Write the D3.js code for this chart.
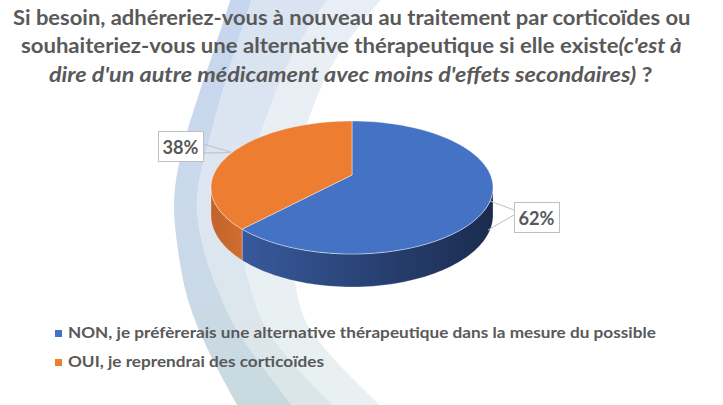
<!DOCTYPE html>
<html><head><meta charset="utf-8">
<script src="https://cdn.jsdelivr.net/npm/d3@7"></script>
<style>html,body{margin:0;padding:0;background:#fff}svg{display:block}</style>
</head><body>
<svg id="chart" width="723" height="405"></svg>
<script>
// ---- data ----
const categories = [
  "NON, je préfèrerais une alternative thérapeutique dans la mesure du possible",
  "OUI, je reprendrai des corticoïdes"
];
const values = [62, 38];
const colors = ["#4472C4", "#ED7D31"];
const sideColors = [["#37599c", "#1b2b4e"], ["#c4632a", "#cf6e2f"]];
const titleLines = [
  [{t: "Si besoin, adhéreriez-vous à nouveau au traitement par corticoïdes ou", i: false}],
  [{t: "souhaiteriez-vous une alternative thérapeutique si elle existe", i: false}, {t: "(c'est à", i: true}],
  [{t: "dire d'un autre médicament avec moins d'effets secondaires)", i: true}, {t: " ?", i: false}]
];

const svg = d3.select("#chart");
const defs = svg.append("defs");
const FONT = "Lato, 'Open Sans', sans-serif";
const TXT = "#595959";

function squeeze(sel, x0, x1) {
  const node = sel.node();
  const w = node.getComputedTextLength ? node.getComputedTextLength() : node.getBBox().width;
  const s = (x1 - x0) / w;
  sel.attr("transform", `translate(${x0},0) scale(${s},1) translate(${-x0},0)`);
  return s;
}

// ---- background decoration ----
function vgrad(id, stops) {
  const g = defs.append("linearGradient").attr("id", id)
    .attr("x1", 0).attr("y1", 0).attr("x2", 0).attr("y2", 405).attr("gradientUnits", "userSpaceOnUse");
  stops.forEach(([o, c]) => g.append("stop").attr("offset", o).attr("stop-color", c));
}
vgrad("bandA", [[0, "#c6d6ee"], [0.5, "#cbd9ec"], [1, "#c9dadf"]]);
vgrad("bandB", [[0, "#d9e3f1"], [0.5, "#dde6f1"], [1, "#dbe6e8"]]);
vgrad("bandC", [[0, "#e8eef5"], [1, "#e9f0f1"]]);

const edges = [
  [[232,-5],[214,50],[197,100],[182,150],[174,200],[178,250],[188,300],[208,350],[240,410]],
  [[253,-5],[226,80],[212,130],[197,200],[204,250],[218,290],[237,330],[296,410]],
  [[330,-5],[290,60],[262,130],[240,200],[244,260],[262,320],[290,360],[338,410]],
  [[385,-5],[335,60],[305,130],[288,200],[292,260],[305,320],[335,360],[385,410]]
];
const cl = d3.line().curve(d3.curveCatmullRom);
function band(l, r) {
  return cl(l) + cl(r.slice().reverse()).replace(/^M/, "L") + "Z";
}
const bg = svg.append("g");
bg.append("path").attr("d", band(edges[2], edges[3])).attr("fill", "url(#bandC)");
bg.append("path").attr("d", band(edges[1], edges[2])).attr("fill", "url(#bandB)");
bg.append("path").attr("d", band(edges[0], edges[1])).attr("fill", "url(#bandA)");

// ---- title ----
const titleX = [[13, 691], [21, 682], [49, 653]];
const titleY = [25, 53.5, 82];
titleLines.forEach((segs, li) => {
  const t = svg.append("text").attr("x", titleX[li][0]).attr("y", titleY[li])
    .attr("font-family", FONT).attr("font-weight", 700).attr("font-size", 21).attr("fill", TXT);
  segs.forEach(s => t.append("tspan").text(s.t).attr("font-style", s.i ? "italic" : "normal"));
  squeeze(t, titleX[li][0], titleX[li][1]);
});

// ---- 3D pie ----
const cx = 352, cy = 175, A = 138.5, B = 64.15, K = 0.188, H = 26.8;
function P(t, r = 1, d = 0) {
  const X = r * Math.sin(t), Z = r * Math.cos(t), w = 1 + K * Z;
  return [cx + A * X / w, cy - B * Z / w + d * H / w];
}
const arcs = d3.pie().sort(null).startAngle(0).endAngle(2 * Math.PI)(values);
const tR = Math.acos(-K), tL = 2 * Math.PI - tR;
const N = 80;
const pieG = svg.append("g");

// side walls
arcs.forEach((a, i) => {
  const s = Math.max(a.startAngle, tR), e = Math.min(a.endAngle, tL);
  if (e <= s) return;
  const top = d3.range(N + 1).map(j => P(s + (e - s) * j / N, 1, 0));
  const bot = d3.range(N + 1).map(j => P(s + (e - s) * j / N, 1, 1)).reverse();
  const xs = top.map(p => p[0]);
  const gid = "side" + i;
  const g = defs.append("linearGradient").attr("id", gid).attr("gradientUnits", "userSpaceOnUse")
    .attr("x1", d3.min(xs)).attr("x2", d3.max(xs)).attr("y1", 0).attr("y2", 0);
  g.append("stop").attr("offset", 0).attr("stop-color", sideColors[i][0]);
  g.append("stop").attr("offset", 1).attr("stop-color", sideColors[i][1]);
  pieG.append("path").attr("d", "M" + top.concat(bot).map(p => p.join(",")).join("L") + "Z")
    .attr("fill", `url(#${gid})`).attr("stroke", "rgba(255,255,255,0.45)").attr("stroke-width", 0.6);
});
// top faces
arcs.forEach((a, i) => {
  const pts = [P(0, 0, 0)].concat(d3.range(N + 1).map(j => P(a.startAngle + (a.endAngle - a.startAngle) * j / N)));
  pieG.append("path").attr("d", "M" + pts.map(p => p.join(",")).join("L") + "Z")
    .attr("fill", colors[i]).attr("stroke", "rgba(255,255,255,0.6)").attr("stroke-width", 0.7);
});

// ---- data labels ----
const total = d3.sum(values);
const labelBoxes = [{x: 514, y: 202, w: 45, h: 30}, {x: 158, y: 131, w: 45, h: 30}];
const leaders = [
  [[[514, 210], [490, 201]], [[514, 215], [488, 230]]],
  [[[203, 144], [231, 152]], [[203, 153], [231, 152.6]]]
];
arcs.forEach((a, i) => {
  const bx = labelBoxes[i];
  leaders[i].forEach(seg => svg.append("path").attr("d", d3.line()(seg))
    .attr("stroke", "#bfbfbf").attr("stroke-width", 1).attr("fill", "none"));
  svg.append("rect").attr("x", bx.x + 0.5).attr("y", bx.y + 0.5).attr("width", bx.w).attr("height", bx.h)
    .attr("fill", "#fff").attr("stroke", "#bfbfbf").attr("stroke-width", 1);
  const t = svg.append("text").attr("x", bx.x + 4.5).attr("y", bx.y + 23)
    .attr("font-family", FONT).attr("font-weight", 700).attr("font-size", 19).attr("fill", TXT)
    .text(Math.round(values[i] / total * 100) + "%");
  squeeze(t, bx.x + 4.5, bx.x + 40.5);
});

// ---- legend ----
const legY = [338, 367];
let legScale = null;
categories.forEach((c, i) => {
  svg.append("rect").attr("x", 55).attr("y", legY[i] - 8).attr("width", 7).attr("height", 7).attr("fill", colors[i]);
  const t = svg.append("text").attr("x", 68).attr("y", legY[i])
    .attr("font-family", FONT).attr("font-weight", 700).attr("font-size", 15.5).attr("fill", TXT).text(c);
  if (i === 0) legScale = squeeze(t, 68, 656);
  else {
    const w = t.node().getComputedTextLength();
    squeeze(t, 68, 68 + w * legScale);
  }
});
</script>
</body></html>
